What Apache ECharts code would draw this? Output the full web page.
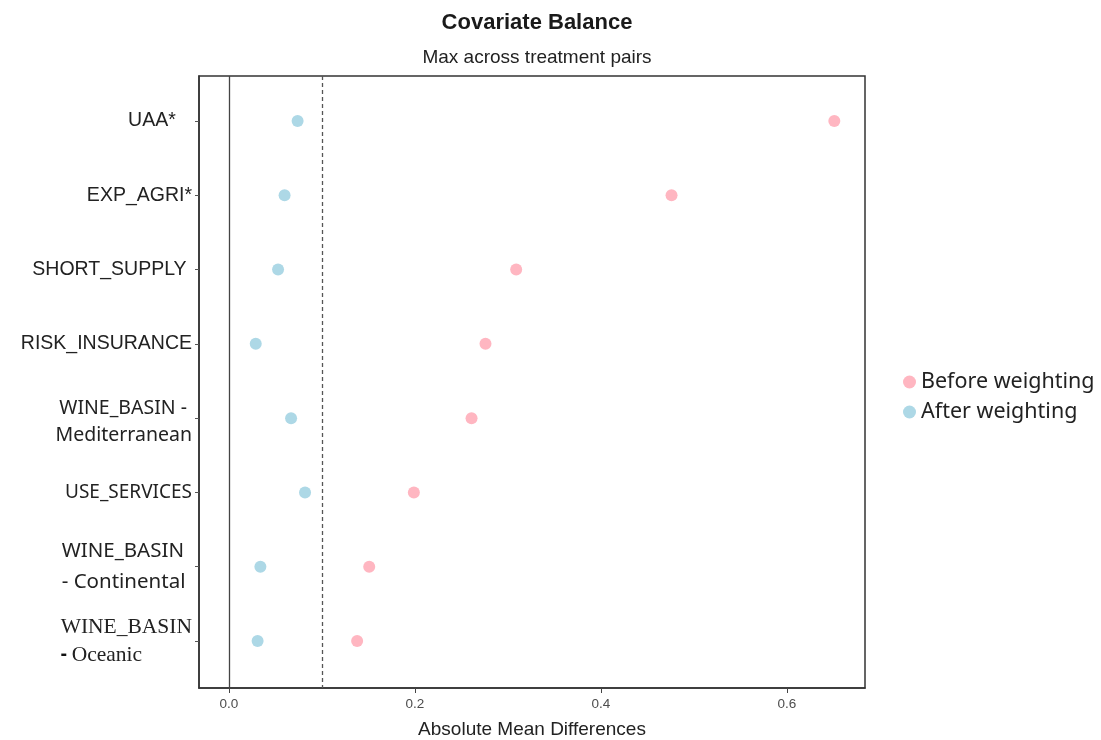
<!DOCTYPE html>
<html>
<head>
<meta charset="utf-8">
<script src="https://cdn.jsdelivr.net/npm/echarts@6/dist/echarts.min.js"></script>
<style>html,body{margin:0;padding:0;background:#fff;}#c{width:1101px;height:740px;}</style>
</head>
<body>
<div id="c"></div>
<script>
// Covariates, top to bottom
const covariates = ['UAA*', 'EXP_AGRI*', 'SHORT_SUPPLY', 'RISK_INSURANCE', 'WINE_BASIN - Mediterranean', 'USE_SERVICES', 'WINE_BASIN - Continental', 'WINE_BASIN - Oceanic'];
const beforeWeighting = [0.651, 0.476, 0.309, 0.276, 0.261, 0.199, 0.151, 0.138];
const afterWeighting  = [0.074, 0.060, 0.053, 0.029, 0.067, 0.082, 0.034, 0.031];
const xTicks = [0.0, 0.2, 0.4, 0.6];
const threshold = 0.1;

const labelText = {
  'UAA*': '{a|UAA*   }',
  'EXP_AGRI*': '{a|EXP_AGRI*}',
  'SHORT_SUPPLY': '{a|SHORT_SUPPLY }',
  'RISK_INSURANCE': '{a|RISK_INSURANCE}',
  'WINE_BASIN - Mediterranean': '{m1|WINE_BASIN - }\n{m2|Mediterranean}',
  'USE_SERVICES': '{u|USE_SERVICES}',
  'WINE_BASIN - Continental': '{c1|WINE_BASIN}\n{cl|- Continental}',
  'WINE_BASIN - Oceanic': '{t|WINE_BASIN}\n{ol|- }{ot|Oceanic}'
};

const chart = echarts.init(document.getElementById('c'), null, {renderer: 'canvas'});
const sans = '"Noto Sans", sans-serif';
const arial = '"Liberation Sans", Arial, sans-serif';
const serif = '"Liberation Serif", serif';

chart.setOption({
  animation: false,
  backgroundColor: '#fff',
  title: {
    text: 'Covariate Balance',
    subtext: 'Max across treatment pairs',
    left: 532, textAlign: 'center', top: 7,
    itemGap: 14,
    textStyle: {fontFamily: arial, fontSize: 22, fontWeight: 'bold', color: '#1a1a1a'},
    subtextStyle: {fontFamily: arial, fontSize: 19, color: '#222'}
  },
  legend: {
    orient: 'vertical', left: 898, top: 366,
    icon: 'circle', itemWidth: 13, itemHeight: 13, itemGap: 8,
    textStyle: {fontFamily: sans, fontSize: 21.5, color: '#222'},
    data: ['Before weighting', 'After weighting']
  },
  grid: {left: 199, right: 236, top: 76, bottom: 52, outerBoundsMode: 'none', containLabel: false,
    show: true, borderColor: '#333', borderWidth: 1.5, backgroundColor: 'transparent'},
  xAxis: {
    type: 'value', min: -0.032, max: 0.684,
    name: 'Absolute Mean Differences', nameLocation: 'middle', nameGap: 32,
    nameTextStyle: {fontFamily: arial, fontSize: 19, color: '#222'},
    splitLine: {show: false},
    axisLine: {show: true, onZero: false, lineStyle: {color: '#333', width: 1.5}},
    axisTick: {show: true, length: 5, lineStyle: {color: '#444'}, customValues: xTicks},
    axisLabel: {customValues: xTicks, formatter: v => v.toFixed(1), fontFamily: arial, fontSize: 13.5, color: '#4d4d4d', margin: 9}
  },
  yAxis: {
    type: 'value', inverse: true, min: 0.394, max: 8.633,
    splitLine: {show: false},
    axisLine: {show: true, onZero: false, lineStyle: {color: '#333', width: 1.5}},
    axisTick: {show: true, length: 4, lineStyle: {color: '#555'}, customValues: covariates.map((c, i) => i + 1)},
    axisLabel: {
      customValues: covariates.map((c, i) => i + 1),
      formatter: v => labelText[covariates[Math.round(v) - 1]],
      fontFamily: arial, fontSize: 19.5, color: '#222', margin: 7,
      rich: {
        a: {fontFamily: arial, fontSize: 19.5, color: '#222'},
        u: {fontFamily: sans, fontSize: 19, color: '#222'},
        m1: {fontFamily: sans, fontSize: 19.5, color: '#222', lineHeight: 34},
        m2: {fontFamily: sans, fontSize: 19.5, color: '#222', lineHeight: 20},
        c1: {fontFamily: sans, fontSize: 20.5, color: '#222', lineHeight: 31, align: 'left', padding: [0, 8, 0, 0]},
        cl: {fontFamily: sans, fontSize: 20.5, color: '#222', lineHeight: 31, align: 'left'},
        t: {fontFamily: serif, fontSize: 21.5, color: '#222', lineHeight: 28, align: 'left'},
        ol: {fontFamily: sans, fontSize: 19, color: '#111', fontWeight: 'bold', lineHeight: 28, align: 'left'},
        ot: {fontFamily: serif, fontSize: 21.5, color: '#222', lineHeight: 28, align: 'left'}
      }
    }
  },
  series: [
    {
      name: 'Before weighting', type: 'scatter', symbolSize: 12,
      itemStyle: {color: '#FFB6C1', opacity: 1},
      data: beforeWeighting.map((v, i) => [v, i + 1]),
      z: 3,
      markLine: {
        silent: true, symbol: 'none', label: {show: false},
        data: [
          {xAxis: 0, lineStyle: {color: '#444', type: 'solid', width: 1.3}},
          {xAxis: threshold, lineStyle: {color: '#555', type: [4, 3], width: 1.3}}
        ]
      }
    },
    {
      name: 'After weighting', type: 'scatter', symbolSize: 12,
      itemStyle: {color: '#ADD8E6', opacity: 1},
      data: afterWeighting.map((v, i) => [v, i + 1]),
      z: 3
    }
  ]
});
</script>
</body>
</html>
